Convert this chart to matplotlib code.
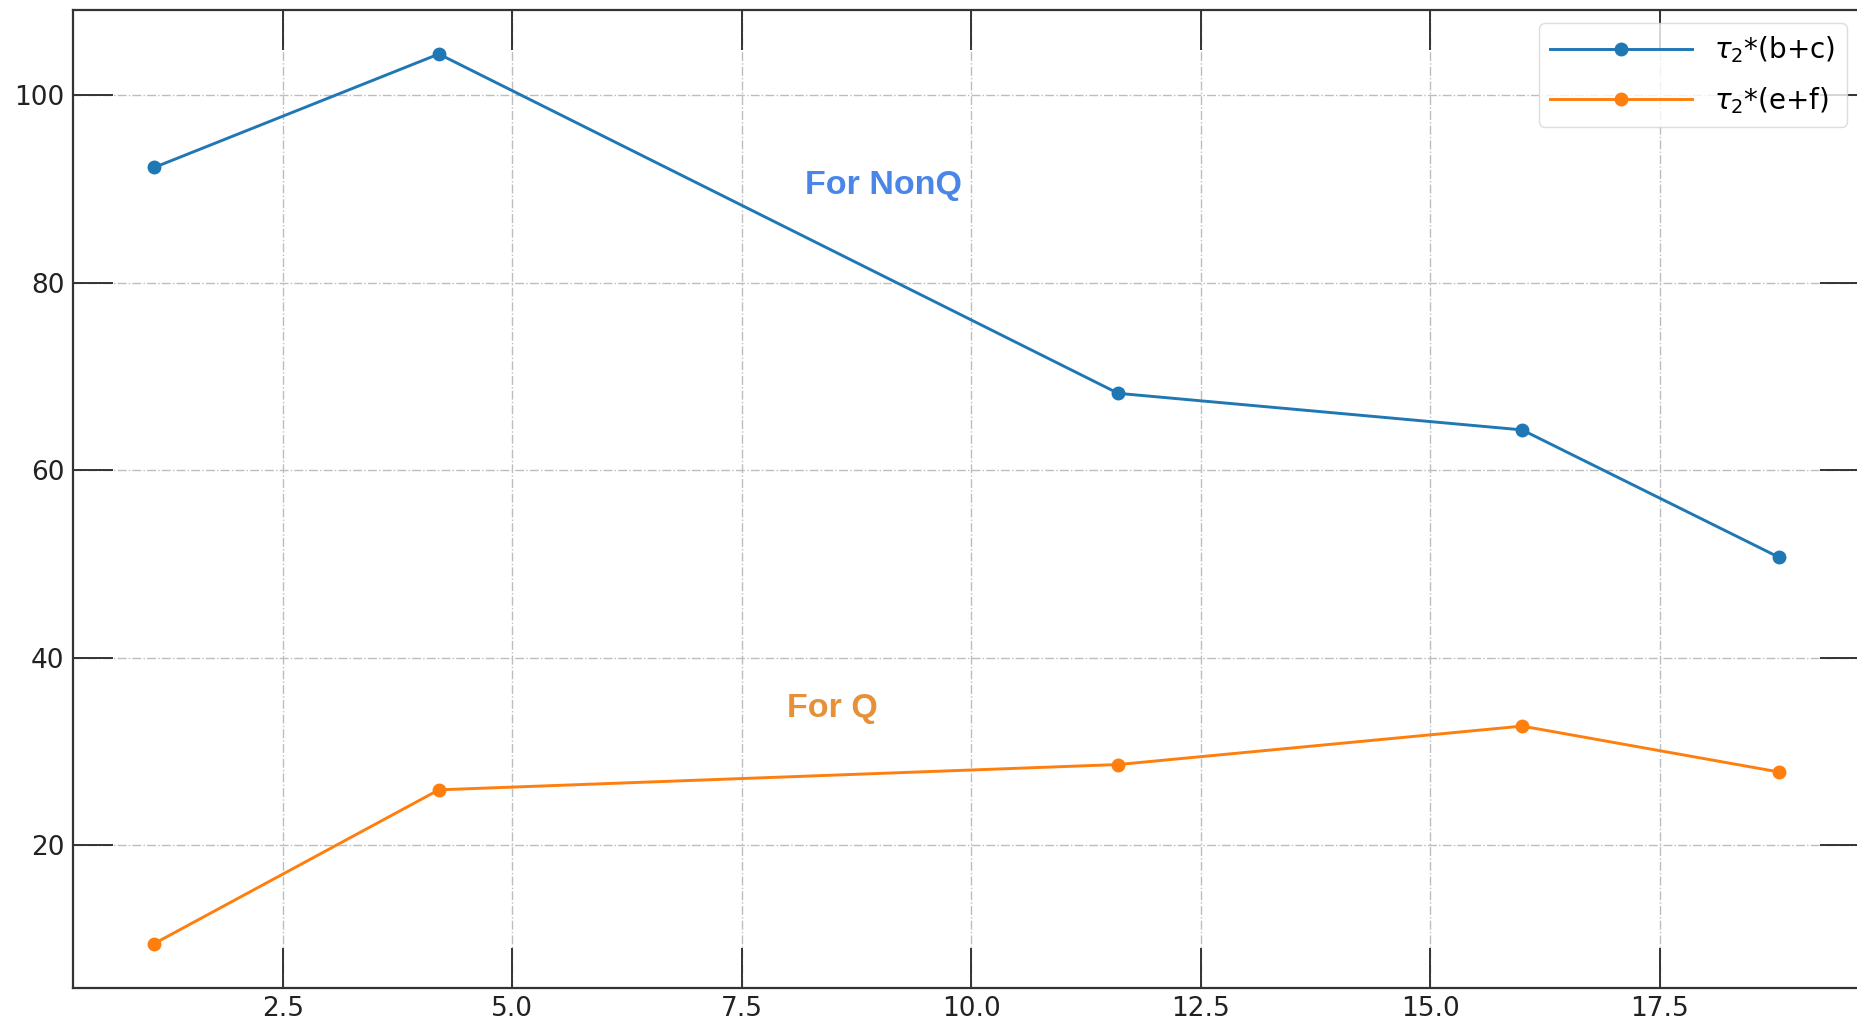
import matplotlib
matplotlib.use("Agg")
import matplotlib.pyplot as plt

# measurement positions
x_vals = [1.1, 4.2, 11.6, 16.0, 18.8]

# tau_2 weighted sums
tau_bc = [92.3, 104.4, 68.2, 64.3, 50.7]
tau_ef = [9.5, 25.9, 28.6, 32.7, 27.8]

labels = [r"$\tau_2$*(b+c)", r"$\tau_2$*(e+f)"]

fig = plt.figure(figsize=(18.58, 10.26), dpi=100)
ax = fig.add_axes([0.0393, 0.037, 0.962, 0.9537])

ax.plot(x_vals, tau_bc, marker="o", ms=9, lw=2.1, c="#1f77b4", label=labels[0])
ax.plot(x_vals, tau_ef, marker="o", ms=9, lw=2.1, c="#ff7f0e", label=labels[1])

ax.grid(True, ls="-.", lw=1.0, c="#bdbdbd")
ax.set_axisbelow(True)

ax.tick_params(
    direction="in", length=29, width=1.4, color="#333333",
    top=True, right=True, labelsize=19, pad=6, labelcolor="#222222",
)
for s in ax.spines.values():
    s.set_color("#333333")
    s.set_linewidth(1.6)

ax.text(8.19, 90.4, "For NonQ", fontsize=24.5, fontweight="bold",
        family="Liberation Sans", color="#4a86e8", va="center")
ax.text(7.99, 34.6, "For Q", fontsize=24.5, fontweight="bold",
        family="Liberation Sans", color="#e69138", va="center")

ax.legend(loc="upper right", fontsize=20, handlelength=5.1, labelspacing=0.7,
          framealpha=0.8, edgecolor="#d5d5d5")

fig.savefig("out.png", dpi=100)
